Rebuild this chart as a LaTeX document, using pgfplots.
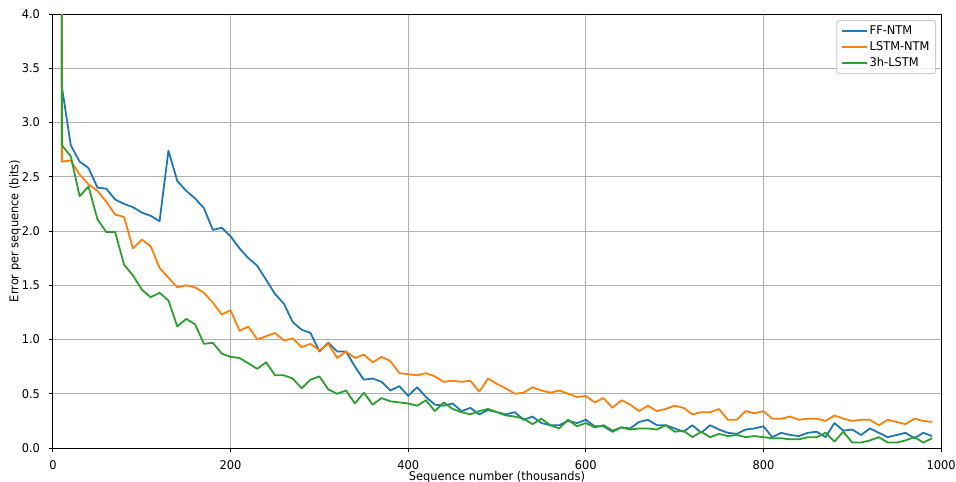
\documentclass[border=0pt]{standalone}
\usepackage{fontspec}
\setmainfont{DejaVu Sans}[FakeStretch=0.95]
\usepackage{pgfplots}
\pgfplotsset{compat=1.18}
\definecolor{tabblue}{HTML}{1F77B4}
\definecolor{taborange}{HTML}{FF7F0E}
\definecolor{tabgreen}{HTML}{2CA02C}
\definecolor{gridgray}{HTML}{B0B0B0}
\begin{document}
\begin{tikzpicture}
\begin{axis}[
  scale only axis,
  width=888pt, height=434pt,
  xmin=0, xmax=1000, ymin=0, ymax=4,
  xtick={0,200,400,600,800,1000},
  ytick={0,0.5,1,1.5,2,2.5,3,3.5,4},
  font=\fontsize{12pt}{14pt}\selectfont,
  /pgf/number format/assume math mode=true,
  /pgf/number format/1000 sep={},
  xticklabel style={anchor=base, inner sep=0pt, yshift=-17.5pt},
  yticklabel style={anchor=east, inner sep=0pt, xshift=-8.7pt, /pgf/number format/.cd, fixed, fixed zerofill, precision=1, assume math mode=true},
  grid=major,
  major grid style={color=gridgray, line width=1pt},
  axis line style={line width=1pt, black},
  tick align=outside,
  major tick length=4.2pt,
  tick style={line width=1pt, black},
  xtick pos=bottom, ytick pos=left,
  xlabel={Sequence number (thousands)},
  ylabel={Error per sequence (bits)},
  xlabel style={at={(axis description cs:0.5,-0.0740)}, anchor=base, inner sep=0pt},
  ylabel style={at={(axis description cs:-0.0428,0.5)}, anchor=center, rotate=0, inner sep=0pt},
  legend cell align=left,
  legend style={at={(rel axis cs:0.9944,0.986)}, anchor=north east, draw=black!20, fill=white, fill opacity=0.8, text opacity=1, rounded corners=2pt, line width=1pt, inner xsep=4pt, inner ysep=3pt, row sep=1.8pt, font=\fontsize{12pt}{14pt}\selectfont, /tikz/every even column/.append style={column sep=4pt}},
  legend image code/.code={\draw[#1, line width=1.8pt] (0pt,0pt) -- (25pt,0pt);},
  every axis plot/.append style={line width=1.8pt, line join=round},
]
\addplot[tabblue, mark=none] coordinates {
(9.5,10) (10,3.33)(20,2.79)(30,2.64)(40,2.58)(50,2.40)(60,2.39)(70,2.29)(80,2.25)(90,2.22)(100,2.17)(110,2.14)(120,2.09)(130,2.74)(140,2.46)(150,2.37)(160,2.30)(170,2.21)(180,2.01)(190,2.03)(200,1.95)(210,1.84)(220,1.75)(230,1.68)(240,1.55)(250,1.42)(260,1.33)(270,1.16)(280,1.09)(290,1.06)(300,0.89)(310,0.97)(320,0.89)(330,0.89)(340,0.75)(350,0.63)(360,0.64)(370,0.61)(380,0.53)(390,0.57)(400,0.48)(410,0.56)(420,0.47)(430,0.40)(440,0.39)(450,0.41)(460,0.34)(470,0.37)(480,0.31)(490,0.35)(500,0.33)(510,0.31)(520,0.33)(530,0.26)(540,0.29)(550,0.23)(560,0.21)(570,0.21)(580,0.25)(590,0.23)(600,0.26)(610,0.20)(620,0.20)(630,0.15)(640,0.19)(650,0.18)(660,0.24)(670,0.26)(680,0.21)(690,0.21)(700,0.18)(710,0.15)(720,0.21)(730,0.14)(740,0.21)(750,0.17)(760,0.14)(770,0.13)(780,0.17)(790,0.18)(800,0.20)(810,0.10)(820,0.14)(830,0.12)(840,0.11)(850,0.14)(860,0.15)(870,0.10)(880,0.23)(890,0.16)(900,0.17)(910,0.12)(920,0.18)(930,0.14)(940,0.10)(950,0.12)(960,0.14)(970,0.09)(980,0.14)(990,0.11)
};
\addlegendentry{FF-NTM}
\addplot[taborange, mark=none] coordinates {
(9.5,10)(10,2.64)(20,2.65)(30,2.52)(40,2.43)(50,2.37)(60,2.27)(70,2.15)(80,2.13)(90,1.84)(100,1.92)(110,1.86)(120,1.66)(130,1.57)(140,1.48)(150,1.50)(160,1.48)(170,1.43)(180,1.34)(190,1.23)(200,1.27)(210,1.08)(220,1.12)(230,1.00)(240,1.03)(250,1.06)(260,0.99)(270,1.01)(280,0.93)(290,0.96)(300,0.90)(310,0.96)(320,0.83)(330,0.89)(340,0.83)(350,0.86)(360,0.79)(370,0.84)(380,0.80)(390,0.69)(400,0.68)(410,0.67)(420,0.69)(430,0.66)(440,0.61)(450,0.62)(460,0.61)(470,0.62)(480,0.52)(490,0.64)(500,0.59)(510,0.55)(520,0.50)(530,0.51)(540,0.56)(550,0.53)(560,0.51)(570,0.53)(580,0.50)(590,0.47)(600,0.48)(610,0.42)(620,0.46)(630,0.37)(640,0.44)(650,0.40)(660,0.34)(670,0.39)(680,0.34)(690,0.36)(700,0.39)(710,0.37)(720,0.31)(730,0.33)(740,0.33)(750,0.36)(760,0.26)(770,0.26)(780,0.34)(790,0.32)(800,0.34)(810,0.27)(820,0.27)(830,0.29)(840,0.26)(850,0.27)(860,0.27)(870,0.25)(880,0.30)(890,0.27)(900,0.25)(910,0.26)(920,0.26)(930,0.21)(940,0.26)(950,0.24)(960,0.22)(970,0.27)(980,0.25)(990,0.24)
};
\addlegendentry{LSTM-NTM}
\addplot[tabgreen, mark=none] coordinates {
(9.5,10)(10,2.79)(20,2.69)(30,2.32)(40,2.41)(50,2.11)(60,1.99)(70,1.99)(80,1.69)(90,1.59)(100,1.46)(110,1.39)(120,1.43)(130,1.36)(140,1.12)(150,1.19)(160,1.14)(170,0.96)(180,0.97)(190,0.87)(200,0.84)(210,0.83)(220,0.78)(230,0.73)(240,0.79)(250,0.67)(260,0.67)(270,0.64)(280,0.55)(290,0.63)(300,0.66)(310,0.54)(320,0.50)(330,0.53)(340,0.41)(350,0.51)(360,0.40)(370,0.46)(380,0.43)(390,0.42)(400,0.41)(410,0.39)(420,0.44)(430,0.34)(440,0.42)(450,0.36)(460,0.33)(470,0.31)(480,0.34)(490,0.36)(500,0.33)(510,0.30)(520,0.29)(530,0.27)(540,0.22)(550,0.27)(560,0.21)(570,0.18)(580,0.26)(590,0.20)(600,0.23)(610,0.19)(620,0.21)(630,0.16)(640,0.19)(650,0.17)(660,0.18)(670,0.18)(680,0.17)(690,0.21)(700,0.15)(710,0.16)(720,0.10)(730,0.15)(740,0.10)(750,0.13)(760,0.11)(770,0.12)(780,0.10)(790,0.11)(800,0.10)(810,0.09)(820,0.09)(830,0.08)(840,0.08)(850,0.10)(860,0.10)(870,0.14)(880,0.06)(890,0.15)(900,0.05)(910,0.05)(920,0.07)(930,0.10)(940,0.05)(950,0.05)(960,0.07)(970,0.10)(980,0.05)(990,0.09)
};
\addlegendentry{3h-LSTM}
\end{axis}
\pgfresetboundingbox
\useasboundingbox (-53pt,-34pt) rectangle (903pt,448pt);
\end{tikzpicture}
\end{document}
